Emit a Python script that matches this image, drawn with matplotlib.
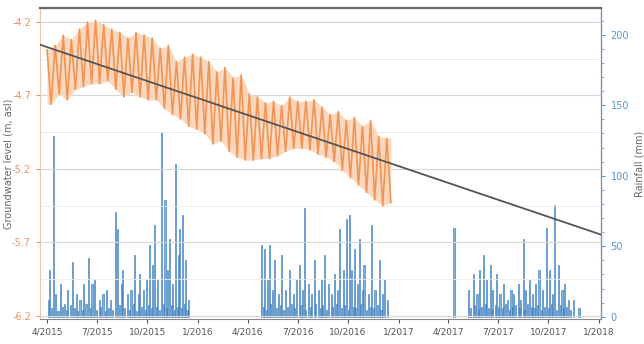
import matplotlib.pyplot as plt
import matplotlib.dates as mdates
from matplotlib.ticker import MultipleLocator, FuncFormatter
import numpy as np
import pandas as pd

# groundwater level, fortnightly highs and lows (m asl)
gw_high = [-4.39, -4.36, -4.29, -4.32, -4.25, -4.20, -4.19, -4.22, -4.25, -4.27,
           -4.31, -4.27, -4.29, -4.31, -4.38, -4.36, -4.47, -4.44, -4.42, -4.44,
           -4.47, -4.54, -4.51, -4.58, -4.56, -4.69, -4.71, -4.75, -4.74, -4.77,
           -4.71, -4.74, -4.74, -4.73, -4.78, -4.83, -4.81, -4.87, -4.85, -4.91,
           -4.87, -4.98, -4.99]
gw_low = [-4.76, -4.69, -4.73, -4.66, -4.64, -4.62, -4.62, -4.60, -4.66, -4.71,
          -4.68, -4.71, -4.73, -4.73, -4.79, -4.83, -4.86, -4.91, -4.93, -4.96,
          -5.03, -5.01, -5.08, -5.12, -5.14, -5.14, -5.13, -5.13, -5.11, -5.08,
          -5.06, -5.06, -5.07, -5.10, -5.12, -5.15, -5.21, -5.26, -5.31, -5.36,
          -5.41, -5.45, -5.43]

trend_dates = ["2015-03-19", "2018-01-06"]
trend_level = [-4.355, -5.648]

# rainfall events: day number since 2015-04-01 and mm
rain_day = [2, 5, 11, 16, 24, 31, 38, 47, 53, 60, 67, 75, 82, 87, 95, 102, 109, 116,
            124, 129, 135, 138, 146, 153, 160, 166, 169, 176, 182, 187, 193, 196,
            202, 209, 215, 220, 224, 229, 235, 240, 242, 247, 253, 258,
            8, 20, 28, 35, 42, 50, 56, 64, 71, 79, 90, 98, 106, 112, 120, 132, 142,
            150, 157, 163, 172, 179, 185, 190, 199, 205, 212, 218, 227, 232, 238,
            245, 250, 256,
            391, 397, 402, 406, 411, 415, 422, 427, 435, 442, 449, 455, 460, 466,
            469, 477, 482, 487, 495, 500, 506, 513, 518, 524, 529, 533, 540, 546,
            551, 555, 560, 566, 569, 575, 578, 586, 591, 598, 606, 611, 615, 620,
            394, 400, 408, 418, 425, 431, 438, 445, 452, 463, 472, 480, 490, 498,
            503, 510, 521, 527, 537, 543, 549, 558, 563, 572, 582, 589, 595, 602, 609,
            742, 769, 777, 784, 789, 796, 802, 808, 813, 820, 826, 833, 840, 846,
            851, 859, 864, 868, 873, 879, 886, 891, 897, 904, 911, 917, 922, 926,
            933, 939, 944, 951, 960, 970,
            772, 780, 787, 793, 799, 805, 811, 817, 823, 830, 836, 843, 849, 855,
            862, 870, 876, 883, 888, 894, 901, 907, 914, 920, 929, 936, 942, 948, 955]
rain_mm = [12, 33, 128, 16, 23, 9, 19, 39, 16, 12, 23, 42, 23, 26, 12, 16, 19, 12,
           74, 62, 23, 33, 16, 19, 44, 16, 30, 19, 26, 51, 37, 65,
           26, 131, 83, 33, 55, 23, 108, 44, 62, 72, 40, 12,
           6, 4, 7, 5, 8, 6, 4, 5, 9, 6, 5, 7, 4, 6, 5, 8, 6,
           5, 9, 4, 7, 5, 8, 6, 7, 5, 9, 6, 8, 5, 7,
           6, 9, 5,
           51, 48, 26, 51, 19, 40, 16, 44, 19, 33, 16, 26, 37, 19,
           77, 23, 16, 40, 19, 26, 44, 23, 16, 30, 19, 62, 33, 69,
           72, 33, 48, 23, 55, 19, 37, 16, 65, 19, 40, 16, 26, 12,
           7, 5, 9, 6, 8, 5, 7, 9, 6, 8, 5, 7, 9, 6,
           8, 5, 7, 9, 6, 8, 5, 7, 6, 9, 5, 7, 6, 8, 5,
           63, 19, 30, 16, 33, 44, 26, 37, 19, 30, 16, 23, 12, 19,
           16, 23, 12, 55, 19, 26, 16, 23, 33, 19, 63, 33, 16, 79,
           37, 19, 23, 12, 12, 6,
           6, 8, 5, 7, 9, 6, 5, 8, 7, 6, 9, 5, 7, 8,
           6, 5, 9, 7, 6, 8, 5, 7, 6, 9, 5, 8, 6, 7, 5]

tick_dates = ["2015-04-01", "2015-07-01", "2015-10-01", "2016-01-01",
              "2016-04-01", "2016-07-01", "2016-10-01", "2017-01-01",
              "2017-04-01", "2017-07-01", "2017-10-01", "2018-01-01"]
gw_ticks = [-4.2, -4.7, -5.2, -5.7, -6.2]

# interleave highs and lows along the time axis
t_high = pd.date_range("2015-04-01", periods=len(gw_high), freq="14D18h")
t_low = t_high + pd.Timedelta("7D9h")
gw_t = np.empty(2 * len(gw_high), dtype="datetime64[ns]")
gw_t[0::2] = t_high.values
gw_t[1::2] = t_low.values
gw = np.empty(2 * len(gw_high))
gw[0::2] = gw_high
gw[1::2] = gw_low

rain_t = pd.Timestamp("2015-04-01") + pd.to_timedelta(rain_day, unit="D")

fig = plt.figure(figsize=(6.44, 3.44), dpi=100)
ax = fig.add_axes([0.062, 0.073, 0.872, 0.904])
ax2 = ax.twinx()
ax.set_zorder(ax2.get_zorder() + 1)
ax.patch.set_visible(False)

ax2.bar(rain_t, rain_mm, width=2.0, color="#7ab2e0", edgecolor="#2f72b8",
        linewidth=0.4, zorder=2)
ax2.set_ylim(-1.5, 219)
ax2.yaxis.set_major_locator(MultipleLocator(50))
ax2.yaxis.set_minor_locator(MultipleLocator(10))
ax2.tick_params(axis="y", colors="#5b95cc", labelsize=7, length=3)
ax2.tick_params(axis="y", which="minor", colors="#7fa6cc", length=2)
ax2.spines["right"].set_color("#7896b4")
ax2.spines["right"].set_linewidth(1.0)
ax2.spines["top"].set_visible(False)
ax2.spines["left"].set_visible(False)
ax2.spines["bottom"].set_visible(False)
ax2.set_ylabel("Rainfall (mm)", fontsize=7, color="#666666")

# pale band of the daily swing, with the fortnightly highs and lows on top
ax.fill_between(gw_t, np.interp(gw_t.astype("int64"), t_high.values.astype("int64"), gw_high),
                np.interp(gw_t.astype("int64"), t_low.values.astype("int64"), gw_low),
                color="#fbd8bd", linewidth=0, zorder=2)
ax.plot(gw_t, gw, color="#f09555", linewidth=1.2, zorder=3)
ax.plot(pd.to_datetime(trend_dates), trend_level, color="#555555", linewidth=1.3,
        zorder=4)
ax.set_ylim(-6.22, -4.105)
ax.set_yticks(gw_ticks)
ax.set_yticks(np.arange(-6.2, -4.1, 0.25), minor=True)
ax.yaxis.set_major_formatter(FuncFormatter(lambda v, p: f"{v:.1f}"))
ax.tick_params(axis="y", colors="#eb9560", labelsize=7, length=3)
ax.tick_params(axis="y", which="minor", length=0)
ax.set_ylabel("Groundwater level (m, asl)", fontsize=7, color="#666666")
ax.yaxis.set_label_coords(-0.047, 0.5)

ax2.grid(False)
ax.grid(True, axis="y", which="major", color="#d6d6d6", linewidth=0.8, zorder=0)
ax.grid(True, axis="y", which="minor", color="#ececec", linewidth=0.6, zorder=0)

ax.set_xlim(pd.Timestamp("2015-03-19"), pd.Timestamp("2018-01-06"))
ax.set_xticks(pd.to_datetime(tick_dates))
ax.xaxis.set_major_formatter(FuncFormatter(
    lambda v, p: f"{mdates.num2date(v).month}/{mdates.num2date(v).year}"))
ax.tick_params(axis="x", labelsize=6.5, colors="#555555", length=3)

ax.spines["top"].set_color("#666666")
ax.spines["top"].set_linewidth(1.6)
ax.spines["bottom"].set_color("#888888")
ax.spines["left"].set_color("#e6c9b5")
ax.spines["right"].set_visible(False)

fig.savefig("out.png", dpi=100)
